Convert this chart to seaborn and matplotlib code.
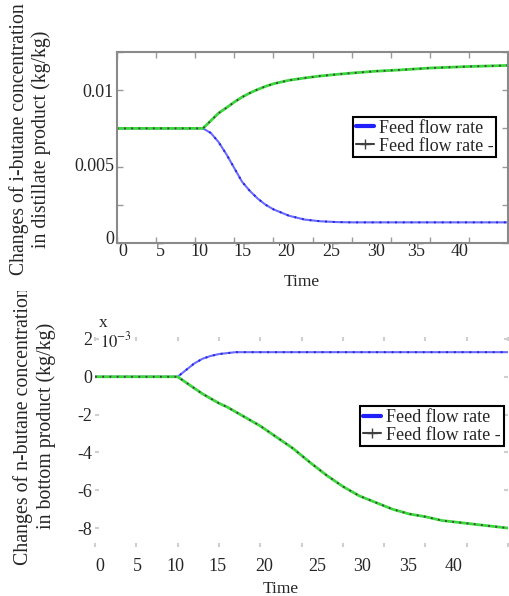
import numpy as np
import matplotlib
matplotlib.use("Agg")
import matplotlib.pyplot as plt
import seaborn as sns
from matplotlib.lines import Line2D
from matplotlib.transforms import Bbox, TransformedBbox, ScaledTranslation

# values
t_top = [0, 5, 10, 11, 12, 13, 14, 15, 16, 17, 18, 19, 20, 22, 24, 26, 28, 30, 33, 36, 40, 45, 50]
top_blue = [0.0075, 0.0075, 0.0075, 0.0075, 0.0072, 0.0066, 0.0058, 0.0049, 0.0040, 0.0034, 0.0029,
            0.0025, 0.0022, 0.00178, 0.00153, 0.00142, 0.00137, 0.00135, 0.00135, 0.00135, 0.00135,
            0.00135, 0.00135]
top_green = [0.0075, 0.0075, 0.0075, 0.0075, 0.0080, 0.0085, 0.00885, 0.00922, 0.00955, 0.00982,
             0.01005, 0.01025, 0.01042, 0.01065, 0.0108, 0.01093, 0.01103, 0.01112, 0.01124,
             0.01132, 0.01145, 0.01155, 0.01162]

t_bot = [0, 5, 10, 11, 12, 13, 14, 15, 16, 17, 18, 20, 22, 24, 26, 28, 30, 32, 34, 36, 38, 40, 42,
         44, 46, 48, 50]
bot_blue = [0, 0, 0, 0.00035, 0.0007, 0.00095, 0.0011, 0.0012, 0.00125, 0.0013, 0.0013, 0.0013,
            0.0013, 0.0013, 0.0013, 0.0013, 0.0013, 0.0013, 0.0013, 0.0013, 0.0013, 0.0013, 0.0013,
            0.0013, 0.0013, 0.0013, 0.0013]
bot_green = [0, 0, 0, -0.0003, -0.0006, -0.0009, -0.00115, -0.0014, -0.0016, -0.00185, -0.0021,
             -0.0026, -0.0032, -0.0038, -0.00452, -0.0052, -0.0058, -0.0063, -0.00665, -0.0070,
             -0.00725, -0.0074, -0.0076, -0.0077, -0.0078, -0.0079, -0.0080]

xticks = [0, 5, 10, 15, 20, 25, 30, 35, 40, 45, 50]
xtick_labels = ["0", "5", "10", "15", "20", "25", "30", "35", "40", "", ""]
top_yticks = [0, 0.0025, 0.005, 0.0075, 0.01, 0.0125]
top_ytick_labels = ["0", "", "0.005", "", "0.01", ""]
bot_yticks = [0.002, 0, -0.002, -0.004, -0.006, -0.008]
bot_ytick_labels = ["2", "0", "-2", "-4", "-6", "-8"]
legend_labels = ["Feed flow rate", "Feed flow rate -"]

# the reference's tick labels drift off their ticks (pixels)
top_xlabel_shift = [6, 4, 4, 8, 13, 19, 24, 25, 29, 0, 0]
bot_xlabel_shift = [5, 1, -2, -1, 4, 16, 19, 24, 28, 0, 0]
top_ylabel_shift = [5, 0, 2, 0, 0, 0]

sns.set_style("ticks")
plt.rcParams["font.family"] = ["Liberation Serif", "DejaVu Serif"]
plt.rcParams["mathtext.fontset"] = "stix"
plt.rcParams["axes.unicode_minus"] = False

fig = plt.figure(figsize=(5.1, 5.96), dpi=100)
ax1 = fig.add_axes([0.229, 0.5923, 0.768, 0.3205])
ax2 = fig.add_axes([0.1863, 0.0822, 0.81, 0.3523])


def draw_lines(ax, t, blue, green):
    sns.lineplot(x=t, y=blue, ax=ax, color="#6a6aff", lw=1.5, legend=False)
    sns.lineplot(x=t, y=blue, ax=ax, color="#2626e0", lw=1.4, linestyle=(0, (1, 3)), legend=False)
    sns.lineplot(x=t, y=green, ax=ax, color="#3ad83a", lw=2.0, legend=False)
    sns.lineplot(x=t, y=green, ax=ax, color="#404040", lw=1.3, linestyle=(0, (1, 3)), legend=False)


def add_legend(ax, anchor):
    handles = [Line2D([], [], color="#2020ff", lw=3),
               Line2D([], [], color="#404040", lw=1.5, marker="+", markersize=7)]
    leg = ax.legend(handles, legend_labels, loc="upper left", bbox_to_anchor=anchor,
                    borderaxespad=0, fancybox=False, framealpha=1, edgecolor="black",
                    fontsize=13, handlelength=1.0, handletextpad=0.3, borderpad=0.15,
                    labelspacing=0.05)
    leg.get_frame().set_linewidth(1.5)


def shift_labels(labels, shifts, horizontal):
    for lab, d in zip(labels, shifts):
        if horizontal:
            off = ScaledTranslation(d / 100, 0, fig.dpi_scale_trans)
        else:
            off = ScaledTranslation(0, d / 100, fig.dpi_scale_trans)
        lab.set_transform(lab.get_transform() + off)


# top panel
draw_lines(ax1, t_top, top_blue, top_green)
ax1.set_xlim(0, 50)
ax1.set_ylim(0, 0.0125)
ax1.set_xticks(xticks)
ax1.set_xticklabels(xtick_labels)
ax1.set_yticks(top_yticks)
ax1.set_yticklabels(top_ytick_labels)
for s in ax1.spines.values():
    s.set_color("#8a8a8a")
    s.set_linewidth(1.5)
ax1.tick_params(direction="in", length=4, width=1, color="#9a9a9a", top=True, right=True,
                labelsize=13, pad=2)
ax1.tick_params(axis="x", pad=0)
ax1.set_xlabel("Time", fontsize=12.5)
ax1.xaxis.set_label_coords(0.473, -0.16)
add_legend(ax1, (0.603, 0.66))
shift_labels(ax1.get_xticklabels(), top_xlabel_shift, True)
shift_labels(ax1.get_yticklabels(), top_ylabel_shift, False)

# bottom panel
draw_lines(ax2, t_bot, bot_blue, bot_green)
ax2.set_xlim(0, 50)
ax2.set_ylim(-0.009, 0.0021)
ax2.set_xticks(xticks)
ax2.set_xticklabels(xtick_labels)
ax2.set_yticks(bot_yticks)
ax2.set_yticklabels(bot_ytick_labels)
for s in ax2.spines.values():
    s.set_visible(False)
ax2.tick_params(direction="in", length=3, width=1.5, color="#cfcfcf", top=True, right=True,
                labelsize=13, pad=2)
ax2.tick_params(axis="x", pad=8)
ax2.set_xlabel("Time", fontsize=12.5)
ax2.xaxis.set_label_coords(0.45, -0.16)
add_legend(ax2, (0.642, 0.671))
shift_labels(ax2.get_xticklabels(), bot_xlabel_shift, True)

fig.text(0.202, 0.458, "x", fontsize=12.5, ha="center", va="center")
fig.text(0.196, 0.428, "$10^{-3}$", fontsize=12, ha="left", va="center")

# y labels
fig.text(0.059, 0.766, "Changes of i-butane concentration\nin distillate product (kg/kg)",
         rotation=90, ha="center", va="center", multialignment="center", fontsize=14.2,
         linespacing=1.2)
lab = fig.text(0.068, 0.285, "Changes of n-butane concentration\nin bottom product (kg/kg)",
               rotation=90, ha="center", va="center", multialignment="center", fontsize=14.3,
               linespacing=1.2)
lab.set_clip_box(TransformedBbox(Bbox.from_extents(0, 0, 1, 0.5117), fig.transFigure))
lab.set_clip_on(True)

fig.savefig("out.png", dpi=100)
